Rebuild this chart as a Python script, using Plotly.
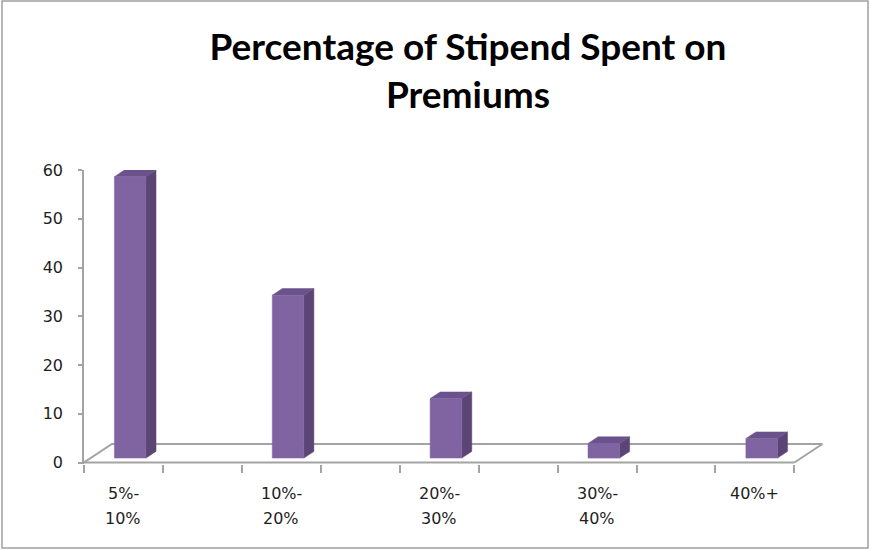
import plotly.graph_objects as go

# Survey result: share of respondents by stipend share spent on premiums
categories = ["5%-10%", "10%-20%", "20%-30%", "30%-40%", "40%+"]
label_line1 = ["5%-", "10%-", "20%-", "30%-", "40%+"]
label_line2 = ["10%", "20%", "30%", "40%", ""]
values = [57.7, 33.4, 12.2, 3.0, 4.0]
y_ticks = [0, 10, 20, 30, 40, 50, 60]

# Pseudo-3D geometry (x in half-category bands, y in value units)
N_BANDS = 2 * len(categories) - 1          # floor spans 9 bands
DX, DY = 0.354, 3.8                        # floor depth offset
HALF_W = 0.2                               # half bar width
D_FRONT, D_BACK = 0.24, 0.60               # bar depth within floor

FRONT = "#8064A2"
SIDE = "#5A4574"
TOP = "#6A528D"
GRID = "#A3A3A3"

fig = go.Figure()

def poly(xs, ys, fill, line=None, width=0):
    fig.add_trace(go.Scatter(
        x=xs + [xs[0]], y=ys + [ys[0]], mode="lines",
        fill="toself", fillcolor=fill,
        line=dict(color=line or fill, width=width),
        hoverinfo="skip", showlegend=False))

def seg(xs, ys):
    fig.add_trace(go.Scatter(
        x=xs, y=ys, mode="lines", line=dict(color=GRID, width=2),
        hoverinfo="skip", showlegend=False))

# floor outline
seg([0, N_BANDS], [0, 0])
seg([0, DX, N_BANDS + DX, N_BANDS], [0, DY, DY, 0])

# 3D columns
for i, v in enumerate(values):
    c = 2 * i + 0.5
    xl, xr = c - HALF_W, c + HALF_W
    fx, fy = D_FRONT * DX, D_FRONT * DY
    bx, by = D_BACK * DX, D_BACK * DY
    # side face
    poly([xr + fx, xr + bx, xr + bx, xr + fx],
         [fy, by, by + v, fy + v], SIDE, width=0.5)
    # top face
    poly([xl + fx, xr + fx, xr + bx, xl + bx],
         [fy + v, fy + v, by + v, by + v], TOP, width=0.5)
    # front face
    poly([xl + fx, xr + fx, xr + fx, xl + fx],
         [fy, fy, fy + v, fy + v], FRONT, width=0.5)

# category labels under each band pair
for i in range(len(categories)):
    c = 2 * i + 0.5
    for text, shift in ((label_line1[i], -31), (label_line2[i], -56)):
        if text:
            fig.add_annotation(
                x=c, y=0, xref="x", yref="y", text=text, showarrow=False,
                yshift=shift, xanchor="center", yanchor="middle",
                font=dict(family="DejaVu Sans", size=16, color="#1E1E1E"))

L, R, T, B = 84, 45, 170, 86
W, H = 871, 550
pw, ph = W - L - R, H - T - B

# outer chart border
fig.add_shape(type="rect", xref="paper", yref="paper",
              x0=(2 - L) / pw, x1=(868 - L) / pw,
              y0=(H - B - 548) / ph, y1=(H - B - 1) / ph,
              line=dict(color="#A0A0A0", width=1.5), layer="above")

fig.update_layout(
    width=W, height=H,
    margin=dict(l=L, r=R, t=T, b=B),
    paper_bgcolor="white", plot_bgcolor="white",
    title=dict(
        text="Percentage of Stipend Spent on<br>Premiums",
        x=468 / W, xanchor="center", xref="container",
        y=1 - 60 / H, yanchor="top", yref="container",
        font=dict(family="Lato", size=37, color="black", weight="bold")),
    xaxis=dict(
        range=[0, 9.4], showgrid=False, zeroline=False, showline=False,
        tickmode="array", tickvals=list(range(N_BANDS + 1)),
        ticks="outside", ticklen=8, tickwidth=1.5, tickcolor=GRID,
        showticklabels=False, fixedrange=True),
    yaxis=dict(
        range=[-0.3, 60], showgrid=False, zeroline=False,
        showline=True, linecolor=GRID, linewidth=1.5,
        tickmode="array", tickvals=y_ticks,
        ticks="outside", ticklen=4, tickwidth=1.5, tickcolor=GRID,
        ticklabelstandoff=12,
        tickfont=dict(family="DejaVu Sans", size=16, color="#1E1E1E"),
        fixedrange=True),
)

fig.write_html("out.html")
